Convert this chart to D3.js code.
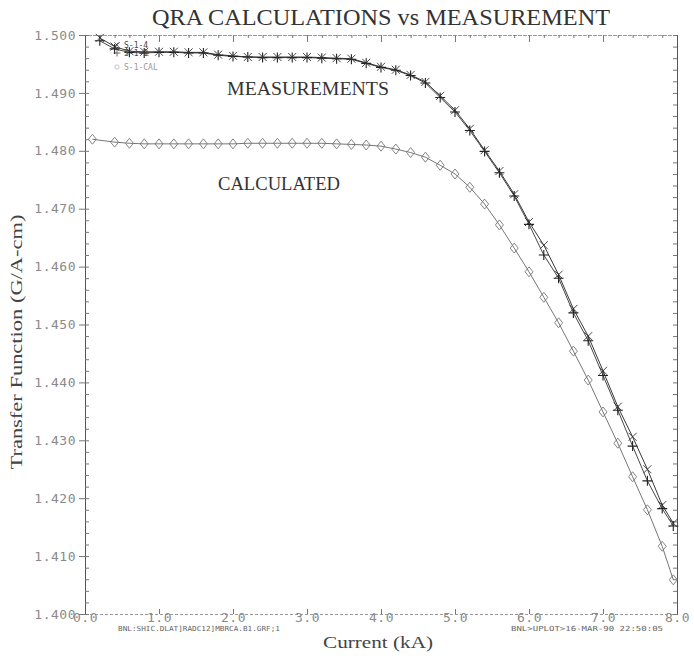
<!DOCTYPE html>
<html>
<head>
<meta charset="utf-8">
<script src="https://cdn.jsdelivr.net/npm/d3@7"></script>
<style>
  body { margin: 0; background: #fff; }
</style>
</head>
<body>
<div class="graph"></div>
<script>
// data
let currentMeas = [0.2, 0.4, 0.6, 0.8, 1.0, 1.2, 1.4, 1.6, 1.8, 2.0, 2.2, 2.4, 2.6, 2.8, 3.0, 3.2, 3.4, 3.6, 3.8, 4.0,
    4.2, 4.4, 4.6, 4.8, 5.0, 5.2, 5.4, 5.6, 5.8, 6.0, 6.2, 6.4, 6.6, 6.8, 7.0, 7.2, 7.4, 7.6, 7.8, 7.95]
let measS14 = [1.4995, 1.4980, 1.4972, 1.4971, 1.4971, 1.4971, 1.4970, 1.4970, 1.4966, 1.4964, 1.4962, 1.4962, 1.4962, 1.4962, 1.4962, 1.4961, 1.4960, 1.4959, 1.4952, 1.4945,
    1.4940, 1.4931, 1.4919, 1.4895, 1.4870, 1.4838, 1.4801, 1.4765, 1.4725, 1.4677, 1.4637, 1.4586, 1.4527, 1.4480, 1.4420, 1.4358, 1.4306, 1.4250, 1.4188, 1.4157]
let measS12 = [1.4990, 1.4976, 1.4970, 1.4969, 1.4970, 1.4970, 1.4969, 1.4969, 1.4965, 1.4963, 1.4962, 1.4961, 1.4961, 1.4961, 1.4961, 1.4960, 1.4959, 1.4958, 1.4951, 1.4944,
    1.4939, 1.4930, 1.4917, 1.4892, 1.4867, 1.4835, 1.4799, 1.4762, 1.4722, 1.4673, 1.4620, 1.4580, 1.4520, 1.4472, 1.4412, 1.4352, 1.4290, 1.4230, 1.4182, 1.4152]

let currentCalc = [0.1, 0.4, 0.6, 0.8, 1.0, 1.2, 1.4, 1.6, 1.8, 2.0, 2.2, 2.4, 2.6, 2.8, 3.0, 3.2, 3.4, 3.6, 3.8, 4.0,
    4.2, 4.4, 4.6, 4.8, 5.0, 5.2, 5.4, 5.6, 5.8, 6.0, 6.2, 6.4, 6.6, 6.8, 7.0, 7.2, 7.4, 7.6, 7.8, 7.95]
let calcCal = [1.4820, 1.4815, 1.4813, 1.4812, 1.4812, 1.4812, 1.4812, 1.4812, 1.4812, 1.4812, 1.4813, 1.4813, 1.4813, 1.4813, 1.4813, 1.4813, 1.4812, 1.4811, 1.4810, 1.4808,
    1.4803, 1.4797, 1.4789, 1.4775, 1.4760, 1.4737, 1.4708, 1.4672, 1.4632, 1.4591, 1.4547, 1.4503, 1.4454, 1.4404, 1.4349, 1.4295, 1.4237, 1.4180, 1.4117, 1.4059]

let xTicks = [0, 1, 2, 3, 4, 5, 6, 7, 8]
let yTicks = [1.400, 1.410, 1.420, 1.430, 1.440, 1.450, 1.460, 1.470, 1.480, 1.490, 1.500]
let legendNames = ['S-1-4', 'S-1-2', 'S-1-CAL']

let svgWidth = 694
let svgHeight = 660

let margin = { left: 85, right: 17, top: 35, bottom: 46 }
let width = svgWidth - margin.left - margin.right
let height = svgHeight - margin.top - margin.bottom

let svg = d3.select('.graph')
    .append('svg')
    .attr('width', svgWidth)
    .attr('height', svgHeight)

let g = svg.append('g')
    .attr('transform', `translate(${margin.left},${margin.top})`)

// scales
let xScale = d3.scaleLinear().domain([0, 8]).range([0, width])
let yScale = d3.scaleLinear().domain([1.400, 1.500]).range([height, 0])

let mono = 'DejaVu Sans Mono, monospace'
let serif = 'Liberation Serif, DejaVu Serif, serif'
let axisGrey = '#8a8a8a'

// axes: box with inward ticks
let xBottom = d3.axisBottom(xScale).tickValues(xTicks).tickSize(-5).tickFormat(d3.format('.1f')).tickPadding(1)
let xTop = d3.axisTop(xScale).tickValues(xTicks).tickSize(-7).tickFormat('')
let yLeft = d3.axisLeft(yScale).tickValues(yTicks).tickSize(6).tickFormat(d3.format('.3f')).tickPadding(3)
let yLeftMinor = d3.axisLeft(yScale).ticks(50).tickSize(-4).tickFormat('')
let yRightMinor = d3.axisRight(yScale).ticks(50).tickSize(-4).tickFormat('')
let xTopMinor = d3.axisTop(xScale).ticks(40).tickSize(-3).tickFormat('')

g.append('g').attr('id', 'x-axis').attr('transform', `translate(0,${height})`).call(xBottom)
g.append('g').attr('id', 'x-top').call(xTop)
g.append('g').attr('id', 'x-top-minor').call(xTopMinor)
g.append('g').attr('id', 'y-axis').call(yLeft)
g.append('g').attr('id', 'y-minor').call(yLeftMinor)
g.append('g').attr('id', 'y-right').attr('transform', `translate(${width},0)`).call(yRightMinor)

g.selectAll('.domain').attr('stroke', '#555').attr('stroke-width', 1)
g.selectAll('#x-top .domain, #x-top-minor .domain, #x-axis .domain').attr('stroke-dasharray', '3,2').attr('stroke', '#999')
g.selectAll('.tick line').attr('stroke', '#777')
g.selectAll('.tick text')
    .attr('font-family', mono)
    .attr('font-size', 13)
    .attr('fill', axisGrey)
    .attr('letter-spacing', 0.5)
d3.select('#x-axis').selectAll('.tick text').attr('dy', '0.5em')

// lines
function valueLine(xs, ys) {
    return d3.line()
        .x((d, i) => xScale(xs[i]))
        .y(d => yScale(d))(ys)
}

g.append('path').attr('d', valueLine(currentCalc, calcCal))
    .attr('fill', 'none').attr('stroke', '#666').attr('stroke-width', 0.9)
g.append('path').attr('d', valueLine(currentMeas, measS12))
    .attr('fill', 'none').attr('stroke', '#333').attr('stroke-width', 0.9)
g.append('path').attr('d', valueLine(currentMeas, measS14))
    .attr('fill', 'none').attr('stroke', '#222').attr('stroke-width', 0.9)

// markers
let diamond = 'M0,-5L4,0L0,5L-4,0Z'
let cross = 'M-4,-4L4,4M-4,4L4,-4'
let plus = 'M-5,0L5,0M0,-5L0,5'

g.selectAll('.calc-pt')
    .data(calcCal)
    .join('path')
    .attr('class', 'calc-pt')
    .attr('d', diamond)
    .attr('transform', (d, i) => `translate(${xScale(currentCalc[i])},${yScale(d)})`)
    .attr('fill', 'none').attr('stroke', '#777').attr('stroke-width', 0.9)

g.selectAll('.s12-pt')
    .data(measS12)
    .join('path')
    .attr('class', 's12-pt')
    .attr('d', plus)
    .attr('transform', (d, i) => `translate(${xScale(currentMeas[i])},${yScale(d)})`)
    .attr('fill', 'none').attr('stroke', '#222').attr('stroke-width', 1.1)

g.selectAll('.s14-pt')
    .data(measS14)
    .join('path')
    .attr('class', 's14-pt')
    .attr('d', cross)
    .attr('transform', (d, i) => `translate(${xScale(currentMeas[i])},${yScale(d)})`)
    .attr('fill', 'none').attr('stroke', '#333').attr('stroke-width', 0.9)

// legend in the top-left corner
let legendSymbols = [cross, plus, 'M-3,0A3,3 0 1,0 3,0A3,3 0 1,0 -3,0']
let legend = svg.append('g').attr('transform', 'translate(117,45)')
legendNames.forEach((name, i) => {
    let row = legend.append('g').attr('transform', `translate(0,${[0, 8, 22][i]})`)
    row.append('path').attr('d', legendSymbols[i])
        .attr('transform', 'scale(0.7)')
        .attr('fill', 'none').attr('stroke', i == 2 ? '#aaa' : '#333').attr('stroke-width', 1)
    row.append('text').text(name)
        .attr('x', 7).attr('y', 3)
        .attr('font-family', mono).attr('font-size', 8)
        .attr('fill', i == 2 ? '#999' : '#444')
})

// titles and labels
svg.append('text')
    .attr('x', 381).attr('y', 25)
    .attr('text-anchor', 'middle')
    .attr('font-family', serif).attr('font-size', 24)
    .attr('textLength', 458).attr('lengthAdjust', 'spacingAndGlyphs')
    .attr('fill', '#333')
    .text('QRA CALCULATIONS vs MEASUREMENT')

svg.append('text')
    .attr('x', 227).attr('y', 95)
    .attr('font-family', serif).attr('font-size', 18)
    .attr('textLength', 162).attr('lengthAdjust', 'spacingAndGlyphs')
    .attr('fill', '#333')
    .text('MEASUREMENTS')

svg.append('text')
    .attr('x', 218).attr('y', 190)
    .attr('font-family', serif).attr('font-size', 18)
    .attr('textLength', 122).attr('lengthAdjust', 'spacingAndGlyphs')
    .attr('fill', '#333')
    .text('CALCULATED')

svg.append('text')
    .attr('transform', 'translate(22,342) rotate(-90)')
    .attr('text-anchor', 'middle')
    .attr('font-family', serif).attr('font-size', 16)
    .attr('textLength', 255).attr('lengthAdjust', 'spacingAndGlyphs')
    .attr('fill', '#444')
    .text('Transfer Function (G/A-cm)')

svg.append('text')
    .attr('x', 378).attr('y', 648)
    .attr('text-anchor', 'middle')
    .attr('font-family', serif).attr('font-size', 16)
    .attr('textLength', 110).attr('lengthAdjust', 'spacingAndGlyphs')
    .attr('fill', '#444')
    .text('Current (kA)')

// plot stamps under the axis
svg.append('text')
    .attr('x', 118).attr('y', 631)
    .attr('font-family', mono).attr('font-size', 7)
    .attr('textLength', 162).attr('lengthAdjust', 'spacingAndGlyphs')
    .attr('fill', '#666')
    .text('BNL:SHIC.DLAT]RADC12]MBRCA.B1.GRF;1')

svg.append('text')
    .attr('x', 511).attr('y', 631)
    .attr('font-family', mono).attr('font-size', 7)
    .attr('textLength', 152).attr('lengthAdjust', 'spacingAndGlyphs')
    .attr('fill', '#666')
    .text('BNL>UPLOT>16-MAR-90 22:50:05')
</script>
</body>
</html>
